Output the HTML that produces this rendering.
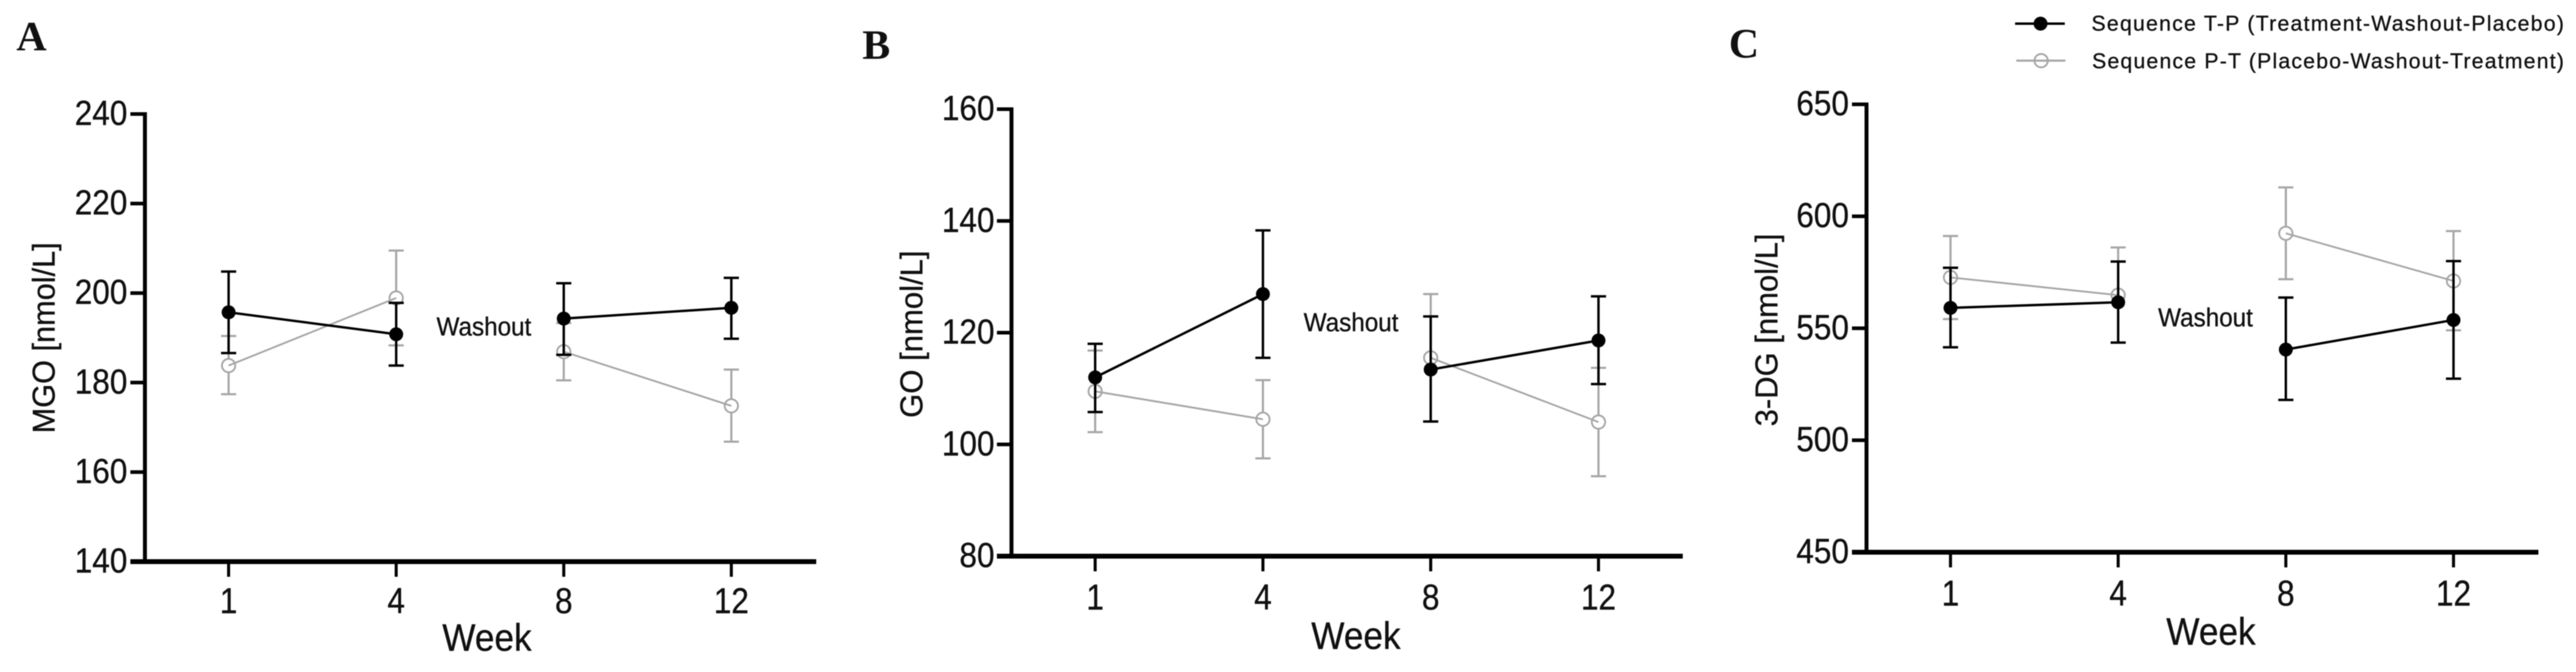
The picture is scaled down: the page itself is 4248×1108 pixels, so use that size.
<!DOCTYPE html>
<html lang="en">
<head>
<meta charset="utf-8">
<title>MGO, GO and 3-DG by week and treatment sequence</title>
<style>
html,body{margin:0;padding:0;background:#fff;}
svg{display:block;filter:blur(0.7px);}
text{font-family:"Liberation Sans",Arial,sans-serif;fill:#111;stroke:#111;stroke-width:0.5px;}
.letter{font-family:"Liberation Serif","Times New Roman",serif;font-weight:bold;font-size:69px;stroke:none;}
.ylab{font-size:52px;}
.week{font-size:58px;}
.wash{font-size:40px;}
.leg{font-size:35px;}
</style>
</head>
<body>
<svg id="figure" xmlns="http://www.w3.org/2000/svg" width="4248" height="1108" viewBox="0 0 4248 1108">
  <rect x="0" y="0" width="4248" height="1108" fill="#fff"/>

  <g id="panel-a"></g>
  <g id="panel-b"></g>
  <g id="panel-c"></g>

  <text class="letter" x="27" y="83">A</text>
  <text class="letter" x="1422" y="97">B</text>
  <text class="letter" x="2851" y="95">C</text>

  <text class="ylab" transform="translate(90,557) rotate(-90)" text-anchor="middle" textLength="315" lengthAdjust="spacingAndGlyphs">MGO [nmol/L]</text>
  <text class="ylab" transform="translate(1521,551) rotate(-90)" text-anchor="middle" textLength="276" lengthAdjust="spacingAndGlyphs">GO [nmol/L]</text>
  <text class="ylab" transform="translate(2931,544) rotate(-90)" text-anchor="middle" textLength="318" lengthAdjust="spacingAndGlyphs">3-DG [nmol/L]</text>

  <text class="week" transform="translate(803,1073) scale(1,1.08)" text-anchor="middle">Week</text>
  <text class="week" transform="translate(2236,1070) scale(1,1.08)" text-anchor="middle">Week</text>
  <text class="week" transform="translate(3646,1063) scale(1,1.08)" text-anchor="middle">Week</text>

  <text class="wash" transform="translate(798,553) scale(1,1.06)" text-anchor="middle">Washout</text>
  <text class="wash" transform="translate(2228,546) scale(1,1.06)" text-anchor="middle">Washout</text>
  <text class="wash" transform="translate(3637,538) scale(1,1.06)" text-anchor="middle">Washout</text>

  <g>
    <g>
      <line x1="3323" y1="39" x2="3405" y2="39" stroke="#000" stroke-width="4"/>
      <circle cx="3365" cy="39" r="11.5" fill="#000"/>
      <text class="leg" x="3449" y="50.5" textLength="779">Sequence T-P (Treatment-Washout-Placebo)</text>
    </g>
    <g>
      <line x1="3325" y1="100" x2="3406" y2="100" stroke="#a6a6a6" stroke-width="3.5"/>
      <circle cx="3366" cy="100" r="11" fill="none" stroke="#a6a6a6" stroke-width="3"/>
      <text class="leg" x="3450" y="112.5" textLength="778">Sequence P-T (Placebo-Washout-Treatment)</text>
    </g>
  </g>
</svg>

<script>
const weeks = ['1', '4', '8', '12'];

const yTicksA = [140, 160, 180, 200, 220, 240];
const tpMeanA = [195.7, 190.8, 194.3, 196.7];
const tpUpperA = [204.8, 197.8, 202.2, 203.4];
const tpLowerA = [186.6, 183.8, 186.2, 189.8];
const ptMeanA = [183.8, 198.9, 186.9, 174.8];
const ptUpperA = [190.4, 209.5, 193.3, 182.9];
const ptLowerA = [177.4, 188.3, 180.5, 166.8];

const yTicksB = [80, 100, 120, 140, 160];
const tpMeanB = [112, 126.9, 113.4, 118.6];
const tpUpperB = [118, 138.3, 122.9, 126.5];
const tpLowerB = [105.8, 115.5, 104.1, 110.8];
const ptMeanB = [109.5, 104.5, 115.5, 104];
const ptUpperB = [116.8, 111.5, 126.9, 113.7];
const ptLowerB = [102.2, 97.5, 104.1, 94.3];

const yTicksC = [450, 500, 550, 600, 650];
const tpMeanC = [559.1, 561.6, 540.5, 553.7];
const tpUpperC = [577, 579.8, 563.7, 580];
const tpLowerC = [541.5, 543.6, 518, 527.5];
const ptMeanC = [572.7, 564.8, 592.4, 571.1];
const ptUpperC = [591.2, 586.1, 612.9, 593.4];
const ptLowerC = [554.1, 543.6, 571.9, 549.1];

const SVG_NS = 'http://www.w3.org/2000/svg';
const BLACK = '#000';
const GRAY = '#a6a6a6';

function mk(parent, tag, props) {
  const el = document.createElementNS(SVG_NS, tag);
  for (const key in props) {
    el.setAttribute(key, props[key]);
  }
  parent.appendChild(el);
  return el;
}

function drawSeries(g, xOf, yOf, mean, upper, lower, color, filled, prefix) {
  const lineWidth = filled ? 4 : 3;
  const barWidth = filled ? 4 : 3.5;

  mean.forEach(function (value, i) {
    const x = xOf(i);
    const bar = mk(g, 'line', {x1: x, x2: x, y1: yOf(upper[i]), y2: yOf(lower[i]), stroke: color, 'stroke-width': barWidth});
    
    
    [upper[i], lower[i]].forEach(function (capValue) {
      const cap = mk(g, 'line', {x1: x - 12.5, x2: x + 12.5, y1: yOf(capValue), y2: yOf(capValue), stroke: color, 'stroke-width': barWidth});
      
      
    });
  });

  mean.forEach(function (value, i) {
    const marker = mk(g, 'circle', {
      cx: xOf(i), cy: yOf(value), r: filled ? 11.5 : 11,
      fill: filled ? BLACK : '#fff',
      stroke: filled ? 'none' : color,
      'stroke-width': filled ? 0 : 3
    });
    
    
  });

  [[0, 1], [2, 3]].forEach(function (seg) {
    const path = mk(g, 'line', {
      x1: xOf(seg[0]), y1: yOf(mean[seg[0]]),
      x2: xOf(seg[1]), y2: yOf(mean[seg[1]]),
      stroke: color, 'stroke-width': lineWidth
    });
    
    
  });
}

function drawPanel(id, frame, yTicks, series) {
  const g = document.getElementById(id);
  const yMin = yTicks[0];
  const yMax = yTicks[yTicks.length - 1];
  const yOf = function (v) { return frame.bottom - (v - yMin) / (yMax - yMin) * (frame.bottom - frame.top); };
  const xOf = function (i) { return frame.x0 + i * (frame.x3 - frame.x0) / (weeks.length - 1); };

  const yAxis = mk(g, 'line', {x1: frame.axis, x2: frame.axis, y1: frame.top - 3, y2: frame.bottom + 3, stroke: BLACK, 'stroke-width': 6.5});
  
  

  const xAxis = mk(g, 'line', {x1: frame.axis - 24, x2: frame.right, y1: frame.bottom, y2: frame.bottom, stroke: BLACK, 'stroke-width': 8});
  
  

  yTicks.forEach(function (t) {
    const tick = mk(g, 'line', {x1: frame.axis - 24, x2: frame.axis, y1: yOf(t), y2: yOf(t), stroke: BLACK, 'stroke-width': 6});
    
    
    const label = mk(g, 'text', {
      transform: 'translate(' + frame.labelRight + ',' + (yOf(t) + 18) + ') scale(1,1.1)',
      'text-anchor': 'end', 'font-size': 52
    });
    label.textContent = String(t);
    
    
  });

  weeks.forEach(function (w, i) {
    const tick = mk(g, 'line', {x1: xOf(i), x2: xOf(i), y1: frame.bottom, y2: frame.bottom + 25, stroke: BLACK, 'stroke-width': 5});
    
    
    const label = mk(g, 'text', {
      transform: 'translate(' + xOf(i) + ',' + (frame.bottom + frame.labelDrop) + ') scale(1,1.14)',
      'text-anchor': 'middle', 'font-size': 52
    });
    label.textContent = w;
    
    
  });

  drawSeries(g, xOf, yOf, series.ptMean, series.ptUpper, series.ptLower, GRAY, false, 'sequence-p-t');
  drawSeries(g, xOf, yOf, series.tpMean, series.tpUpper, series.tpLower, BLACK, true, 'sequence-t-p');
}

drawPanel('panel-a',
  {axis: 239, top: 188, bottom: 926, x0: 377, x3: 1206, right: 1346, labelRight: 210, labelDrop: 85},
  yTicksA,
  {tpMean: tpMeanA, tpUpper: tpUpperA, tpLower: tpLowerA, ptMean: ptMeanA, ptUpper: ptUpperA, ptLower: ptLowerA});

drawPanel('panel-b',
  {axis: 1668, top: 180, bottom: 917, x0: 1806, x3: 2636, right: 2775, labelRight: 1640, labelDrop: 88},
  yTicksB,
  {tpMean: tpMeanB, tpUpper: tpUpperB, tpLower: tpLowerB, ptMean: ptMeanB, ptUpper: ptUpperB, ptLower: ptLowerB});

drawPanel('panel-c',
  {axis: 3078, top: 172, bottom: 910.5, x0: 3216.5, x3: 4046, right: 4186, labelRight: 3049, labelDrop: 88},
  yTicksC,
  {tpMean: tpMeanC, tpUpper: tpUpperC, tpLower: tpLowerC, ptMean: ptMeanC, ptUpper: ptUpperC, ptLower: ptLowerC});
</script>
</body>
</html>
